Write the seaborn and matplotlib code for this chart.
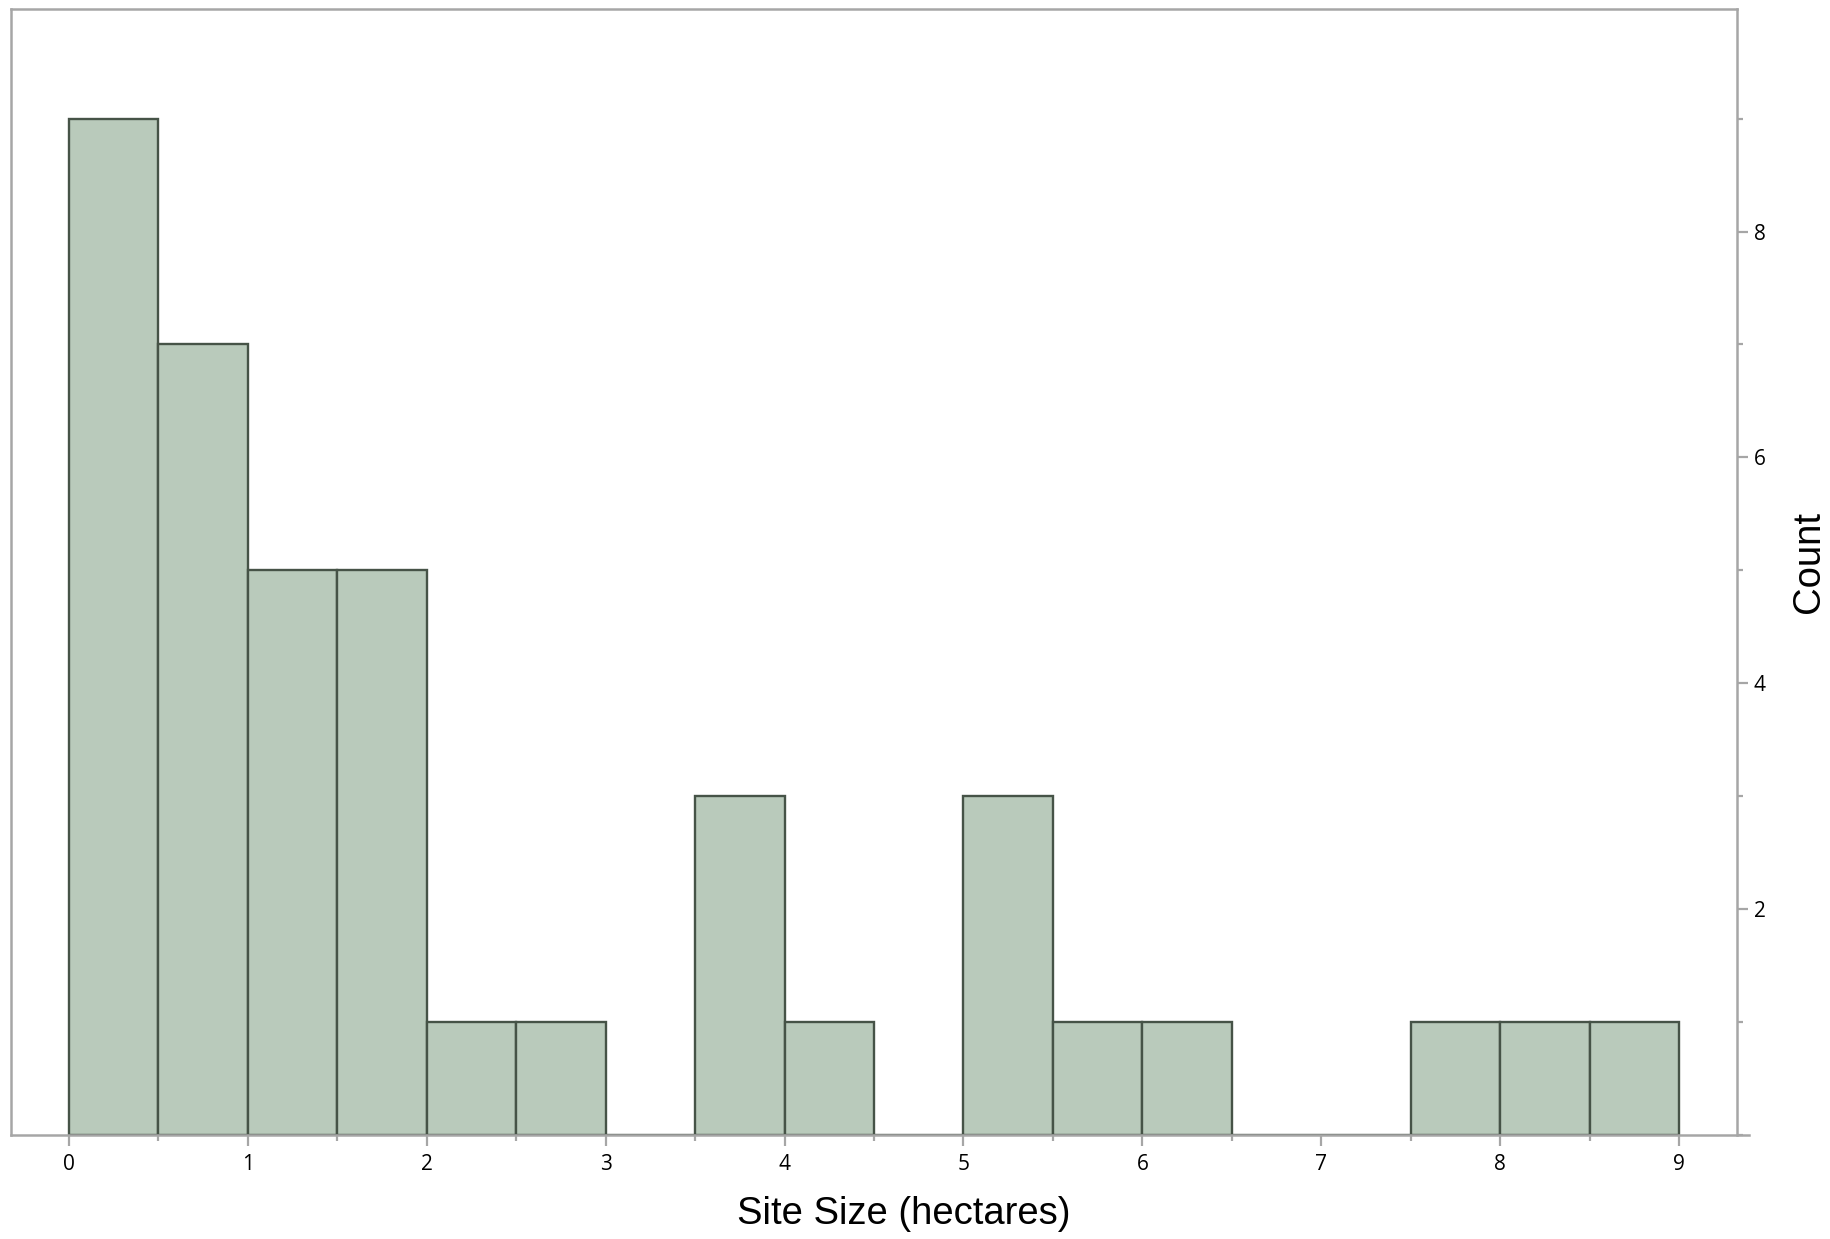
import numpy as np
import pandas as pd
import matplotlib
matplotlib.use('Agg')
import matplotlib.pyplot as plt
import seaborn as sns
from matplotlib.ticker import MultipleLocator

# Histogram: bin midpoints (hectares) and counts per 0.5 ha bin
bin_mid = [0.25, 0.75, 1.25, 1.75, 2.25, 2.75, 3.25, 3.75, 4.25,
           4.75, 5.25, 5.75, 6.25, 6.75, 7.25, 7.75, 8.25, 8.75]
site_count = [9, 7, 5, 5, 1, 1, 0, 3, 1,
              0, 3, 1, 1, 0, 0, 1, 1, 1]
bin_edges = [0, 0.5, 1, 1.5, 2, 2.5, 3, 3.5, 4, 4.5,
             5, 5.5, 6, 6.5, 7, 7.5, 8, 8.5, 9]

df = pd.DataFrame({'size': bin_mid, 'n': site_count})

sns.set_style('ticks')
plt.rcParams['font.family'] = ['Open Sans', 'DejaVu Sans']

grey = '#a6a6a6'

fig = plt.figure(figsize=(18.31, 12.39), dpi=100)
ax = fig.add_axes([0.006, 0.0839, 0.9427, 0.9088])

sns.histplot(data=df, x='size', weights='n', bins=bin_edges, ax=ax,
             color='#b9cabb', alpha=1.0, edgecolor='#465347', linewidth=1.7)

ax.set_xlim(-0.324, 9.324)
ax.set_ylim(0, 9.97)

# y axis on the right
ax.yaxis.tick_right()
ax.yaxis.set_label_position('right')

ax.xaxis.set_major_locator(MultipleLocator(1))
ax.xaxis.set_minor_locator(MultipleLocator(0.5))
ax.yaxis.set_major_locator(MultipleLocator(2))
ax.yaxis.set_minor_locator(MultipleLocator(1))
ax.set_yticks([2, 4, 6, 8])

for side in ['left', 'right', 'top', 'bottom']:
    ax.spines[side].set_visible(True)
    ax.spines[side].set_color(grey)
    ax.spines[side].set_linewidth(1.8)
ax.spines['bottom'].set_bounds(-0.324, 9.39)

ax.tick_params(axis='x', which='major', pad=6)
ax.tick_params(axis='both', which='major', length=8, width=1.6, color=grey,
               labelsize=15, labelcolor='black')
ax.tick_params(axis='y', which='major', pad=4)
ax.tick_params(axis='both', which='minor', length=4, width=1.6, color=grey)
ax.tick_params(axis='y', which='both', left=False, right=True)

ax.set_xlabel('Site Size (hectares)', fontsize=27.5, family='Liberation Sans', color='black')
ax.set_ylabel('Count', fontsize=27.5, family='Liberation Sans', color='black')
ax.xaxis.set_label_coords(0.517, -0.0545)
ax.yaxis.set_label_coords(1.031, 0.509)

fig.savefig('out.png', dpi=100)
